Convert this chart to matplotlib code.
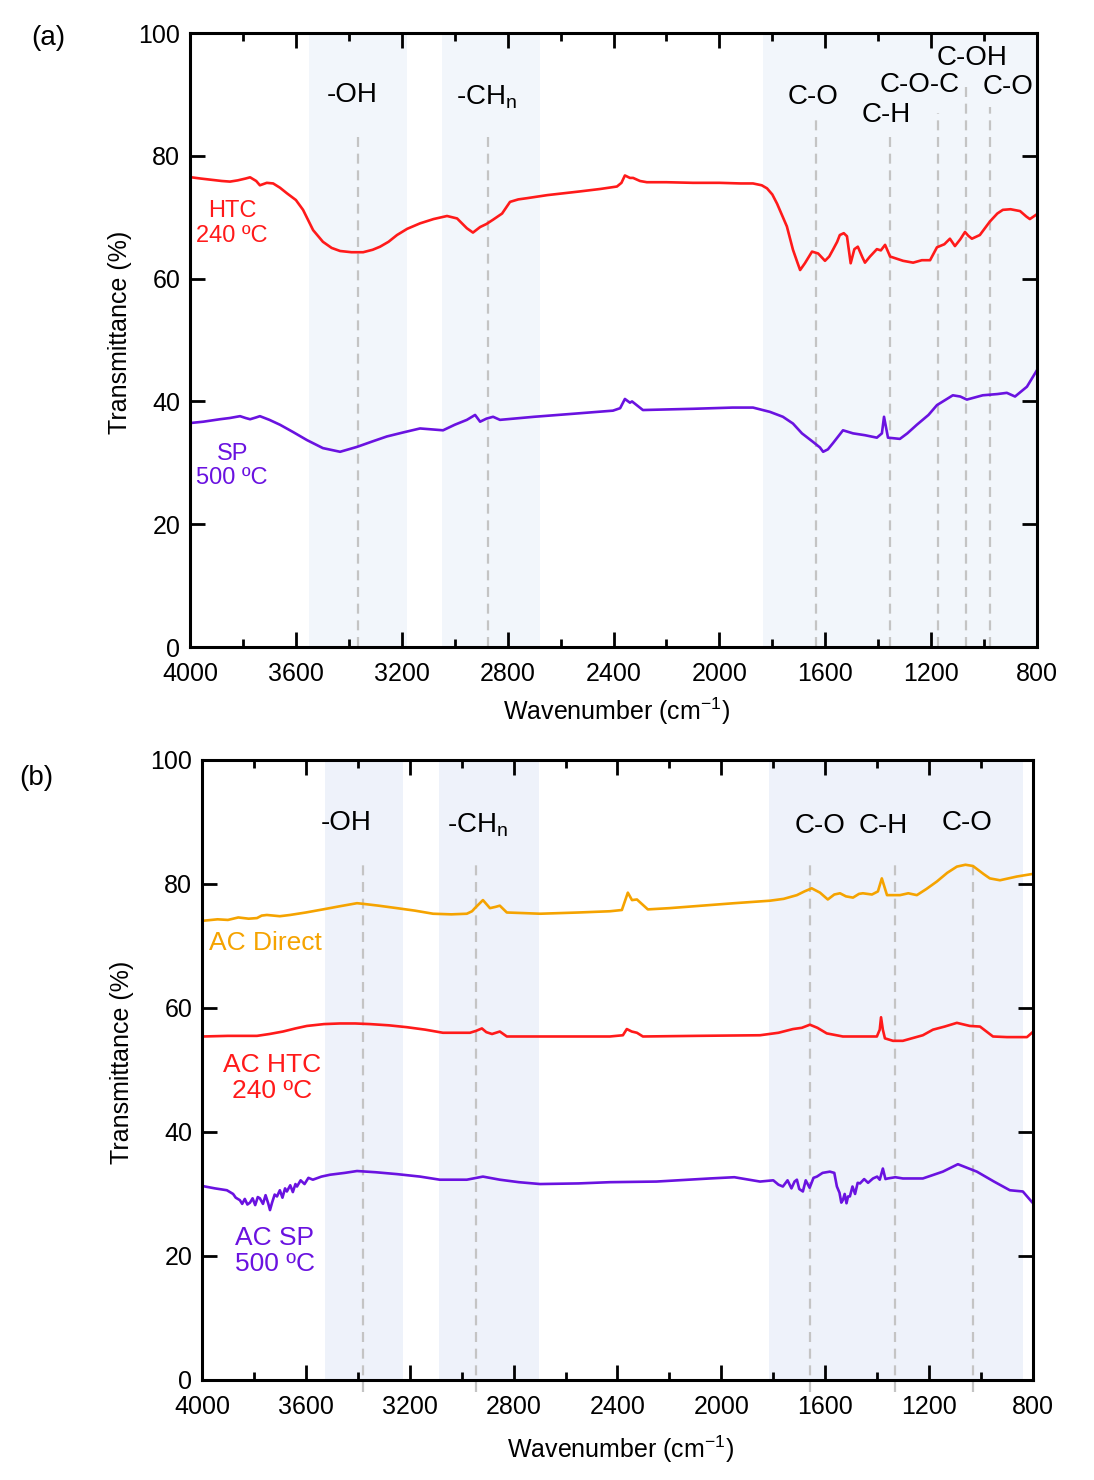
import numpy as np
import matplotlib
matplotlib.use('Agg')
import matplotlib.pyplot as plt
from matplotlib.ticker import MultipleLocator

plt.rcParams['font.family'] = ['Liberation Sans', 'DejaVu Sans']
plt.rcParams['mathtext.fontset'] = 'custom'
plt.rcParams['mathtext.rm'] = 'Liberation Sans'

RED = '#ff1a1a'
PURPLE = '#6a12e0'
ORANGE = '#f5a300'
SHADE_A = '#f2f6fb'
SHADE_B = '#eef2fa'
DASH = '#c4c4c4'

# ---- panel (a) data ----
htc_wn = [3995, 3960, 3920, 3880, 3849, 3820, 3790, 3773, 3750, 3736, 3710, 3686, 3660, 3634, 3600,
          3573, 3535, 3498, 3465, 3433, 3390, 3346, 3310, 3282, 3250, 3218, 3180, 3131, 3080, 3029,
          2991, 2954, 2931, 2904, 2880, 2855, 2821, 2791, 2760, 2727, 2650, 2527, 2450, 2387, 2370,
          2357, 2338, 2326, 2300, 2274, 2200, 2100, 2000, 1920, 1873, 1840, 1820, 1800, 1782, 1745,
          1722, 1705, 1695, 1677, 1650, 1627, 1601, 1585, 1571, 1555, 1545, 1530, 1518, 1504, 1490,
          1477, 1460, 1450, 1431, 1405, 1390, 1374, 1355, 1306, 1268, 1235, 1204, 1178, 1150, 1129,
          1110, 1090, 1072, 1060, 1046, 1016, 978, 950, 929, 900, 864, 840, 827, 810, 800]
htc_t = [76.5, 76.3, 76.1, 75.9, 75.8, 76.0, 76.3, 76.5, 75.9, 75.2, 75.6, 75.5, 74.8, 73.9, 72.8,
         71.2, 67.9, 66.0, 65.0, 64.5, 64.3, 64.3, 64.7, 65.2, 66.0, 67.1, 68.1, 69.0, 69.7, 70.2,
         69.8, 68.2, 67.5, 68.4, 68.9, 69.6, 70.6, 72.5, 72.9, 73.1, 73.6, 74.2, 74.6, 75.0, 75.6,
         76.8, 76.4, 76.4, 75.9, 75.7, 75.7, 75.6, 75.6, 75.5, 75.5, 75.2, 74.7, 73.7, 72.2, 68.5,
         64.7, 62.6, 61.4, 62.5, 64.4, 64.1, 62.9, 63.6, 64.7, 66.0, 67.1, 67.4, 66.9, 62.5, 64.8,
         65.2, 63.5, 62.6, 63.6, 64.8, 64.6, 65.5, 63.6, 62.9, 62.6, 63.0, 63.0, 65.1, 65.6, 66.5,
         65.3, 66.4, 67.6, 67.0, 66.5, 67.1, 69.3, 70.6, 71.2, 71.3, 71.0, 70.1, 69.7, 70.2, 70.5]

sp_wn = [3995, 3950, 3887, 3850, 3811, 3790, 3773, 3750, 3736, 3700, 3660, 3610, 3558, 3498, 3433,
         3369, 3310, 3256, 3190, 3131, 3044, 3000, 2954, 2923, 2904, 2880, 2855, 2829, 2700, 2550,
         2402, 2375, 2357, 2338, 2330, 2289, 2100, 1950, 1873, 1809, 1760, 1722, 1688, 1646, 1620,
         1608, 1590, 1571, 1533, 1495, 1450, 1405, 1386, 1378, 1363, 1318, 1290, 1254, 1210, 1178,
         1118, 1090, 1065, 1005, 950, 914, 883, 838, 800]
sp_t = [36.5, 36.7, 37.1, 37.3, 37.6, 37.3, 37.1, 37.4, 37.6, 37.0, 36.2, 35.0, 33.7, 32.4, 31.8,
        32.6, 33.5, 34.3, 35.0, 35.6, 35.3, 36.2, 37.0, 37.8, 36.7, 37.2, 37.5, 37.0, 37.5, 38.0,
        38.5, 38.9, 40.4, 39.8, 40.0, 38.6, 38.8, 39.0, 39.0, 38.3, 37.5, 36.4, 34.8, 33.4, 32.5,
        31.8, 32.2, 33.2, 35.3, 34.8, 34.5, 34.1, 34.8, 37.5, 34.1, 33.9, 34.8, 36.2, 37.8, 39.4,
        41.0, 40.8, 40.3, 41.0, 41.2, 41.4, 40.8, 42.4, 45.1]

# ---- panel (b) data ----
dir_wn = [3988, 3940, 3900, 3860, 3820, 3788, 3770, 3750, 3700, 3661, 3600, 3534, 3470, 3403, 3380,
          3320, 3249, 3180, 3110, 3040, 2980, 2960, 2949, 2918, 2891, 2870, 2853, 2826, 2760, 2698,
          2550, 2429, 2383, 2360, 2344, 2325, 2283, 2200, 2044, 1950, 1813, 1760, 1709, 1680, 1652,
          1620, 1590, 1565, 1543, 1520, 1493, 1470, 1455, 1420, 1397, 1382, 1362, 1312, 1280, 1247,
          1210, 1170, 1130, 1093, 1060, 1031, 990, 966, 927, 862, 804]
dir_t = [74.1, 74.3, 74.2, 74.6, 74.4, 74.5, 74.9, 75.0, 74.8, 75.0, 75.4, 75.9, 76.4, 76.9, 76.8,
         76.5, 76.1, 75.7, 75.2, 75.1, 75.2, 75.6, 76.1, 77.4, 76.1, 76.3, 76.5, 75.4, 75.3, 75.2,
         75.4, 75.6, 75.8, 78.6, 77.4, 77.5, 75.9, 76.1, 76.6, 76.9, 77.3, 77.6, 78.2, 78.8, 79.3,
         78.6, 77.5, 78.3, 78.5, 78.0, 77.8, 78.4, 78.5, 78.3, 78.8, 80.9, 78.2, 78.2, 78.5, 78.2,
         79.2, 80.4, 81.8, 82.8, 83.1, 82.9, 81.6, 80.9, 80.6, 81.2, 81.6]

htc2_wn = [3996, 3900, 3788, 3740, 3688, 3640, 3596, 3530, 3469, 3410, 3353, 3280, 3211, 3140, 3072,
           2968, 2945, 2922, 2905, 2883, 2853, 2826, 2700, 2550, 2429, 2379, 2364, 2345, 2325, 2302,
           2100, 1851, 1780, 1724, 1690, 1659, 1630, 1594, 1532, 1450, 1401, 1390, 1385, 1378, 1370,
           1339, 1301, 1224, 1185, 1140, 1093, 1043, 1004, 954, 900, 823, 804]
htc2_t = [55.4, 55.5, 55.5, 55.8, 56.2, 56.7, 57.1, 57.4, 57.5, 57.5, 57.4, 57.2, 56.9, 56.5, 56.0,
          56.0, 56.3, 56.7, 56.1, 55.8, 56.2, 55.4, 55.4, 55.4, 55.4, 55.6, 56.6, 56.2, 56.0, 55.4,
          55.5, 55.6, 56.0, 56.6, 56.8, 57.3, 56.8, 55.9, 55.4, 55.4, 55.4, 56.5, 58.5, 56.5, 55.1,
          54.7, 54.7, 55.6, 56.5, 57.0, 57.6, 57.1, 57.0, 55.4, 55.3, 55.3, 56.0]

sp2_wn = [3988, 3950, 3904, 3880, 3870, 3854, 3845, 3835, 3825, 3815, 3805, 3795, 3785, 3777, 3765,
          3755, 3745, 3738, 3730, 3720, 3711, 3700, 3690, 3680, 3673, 3660, 3650, 3640, 3634, 3620,
          3605, 3590, 3573, 3540, 3507, 3450, 3403, 3330, 3249, 3160, 3084, 2980, 2918, 2853, 2780,
          2698, 2550, 2429, 2250, 2044, 1950, 1851, 1800, 1780, 1763, 1745, 1730, 1718, 1709, 1700,
          1686, 1675, 1660, 1645, 1632, 1610, 1582, 1565, 1555, 1545, 1538, 1532, 1525, 1518, 1512,
          1505, 1495, 1485, 1475, 1466, 1450, 1435, 1416, 1400, 1390, 1378, 1368, 1359, 1330, 1301,
          1224, 1147, 1089, 1016, 950, 889, 839, 804]
sp2_t = [31.2, 30.9, 30.6, 30.0, 29.4, 29.0, 28.4, 29.2, 28.3, 28.6, 29.3, 28.2, 29.5, 29.3, 28.4,
         29.8, 28.5, 27.4, 28.6, 29.9, 29.6, 30.6, 29.4, 30.9, 30.4, 31.4, 30.3, 31.6, 31.2, 32.2,
         31.6, 32.6, 32.3, 32.8, 33.1, 33.4, 33.7, 33.5, 33.2, 32.8, 32.3, 32.3, 32.8, 32.3, 31.9,
         31.6, 31.7, 31.9, 32.0, 32.5, 32.7, 32.0, 32.2, 31.5, 31.2, 32.2, 30.9, 32.0, 32.3, 30.8,
         30.4, 32.2, 31.0, 32.6, 32.8, 33.4, 33.6, 33.4, 31.2, 30.2, 28.6, 29.0, 30.0, 28.5, 29.6,
         29.6, 31.2, 30.0, 31.8, 31.7, 32.4, 31.8, 32.5, 32.8, 32.3, 34.1, 32.4, 32.5, 32.7, 32.5,
         32.5, 33.6, 34.8, 33.6, 32.0, 30.6, 30.4, 28.7]

# bands and peak markers
bands_a = [(3550, 3180), (3048, 2678), (1835, 800)]
marks_a = [3365, 2874, 1635, 1355, 1174, 1068, 978]
mark_tops_a = [83.4, 83.4, 86.0, 84.0, 87.0, 91.2, 88.0]
labels_a = ['-OH', '-CH$_\\mathregular{n}$', 'C-O', 'C-H', 'C-O-C', 'C-OH', 'C-O']
label_pos_a = [(3388, 89.9), (2878, 89.6), (1647, 89.6), (1371, 86.6), (1242, 91.5), (1046, 95.9), (910, 91.2)]

bands_b = [(3526, 3226), (3087, 2702), (1817, 840)]
marks_b = [3380, 2945, 1659, 1332, 1031]
mark_tops_b = [83.5, 83.5, 83.5, 83.5, 83.5]
labels_b = ['-OH', '-CH$_\\mathregular{n}$', 'C-O', 'C-H', 'C-O']
label_pos_b = [(3446, 89.8), (2937, 89.5), (1620, 89.4), (1378, 89.4), (1054, 89.8)]


def style_axes(ax):
    ax.set_xlim(4000, 800)
    ax.set_ylim(0, 100)
    ax.xaxis.set_major_locator(MultipleLocator(400))
    ax.xaxis.set_minor_locator(MultipleLocator(200))
    ax.yaxis.set_major_locator(MultipleLocator(20))
    ax.tick_params(which='both', direction='in', top=True, right=True, width=2)
    ax.tick_params(which='major', length=11, labelsize=18)
    ax.tick_params(which='minor', length=6)
    ax.tick_params(axis='x', which='major', pad=11)
    ax.tick_params(axis='y', which='major', pad=7)
    for s in ax.spines.values():
        s.set_linewidth(2.2)


def draw_bands(ax, bands, shade, marks, tops, bottom, labels, label_pos, fs):
    for lo, hi in bands:
        ax.axvspan(lo, hi, color=shade, zorder=0, lw=0)
    for m, top in zip(marks, tops):
        ax.plot([m, m], [bottom, top], color=DASH, ls=(0, (4.5, 3)), lw=1.6, zorder=1, clip_on=False)
    for lab, (x, y) in zip(labels, label_pos):
        ax.text(x, y, lab, fontsize=fs, ha='center', va='center', zorder=3)


fig = plt.figure(figsize=(10.94, 14.8), dpi=100)

ax1 = fig.add_axes([0.1737, 0.5628, 0.7742, 0.4149])
style_axes(ax1)
draw_bands(ax1, bands_a, SHADE_A, marks_a, mark_tops_a, 0, labels_a, label_pos_a, 20)
ax1.plot(htc_wn, htc_t, color=RED, lw=1.9, zorder=2)
ax1.plot(sp_wn, sp_t, color=PURPLE, lw=1.9, zorder=2)
ax1.text(3841, 69.0, 'HTC\n240 ºC', color=RED, fontsize=17, ha='center', va='center', linespacing=1.15)
ax1.text(3841, 29.5, 'SP\n500 ºC', color=PURPLE, fontsize=17, ha='center', va='center', linespacing=1.15)

ax2 = fig.add_axes([0.1846, 0.0676, 0.7596, 0.4189])
style_axes(ax2)
draw_bands(ax2, bands_b, SHADE_B, marks_b, mark_tops_b, -2, labels_b, label_pos_b, 20)
ax2.plot(dir_wn, dir_t, color=ORANGE, lw=1.9, zorder=2)
ax2.plot(htc2_wn, htc2_t, color=RED, lw=1.9, zorder=2)
ax2.plot(sp2_wn, sp2_t, color=PURPLE, lw=1.9, zorder=2)
ax2.text(3754, 70.5, 'AC Direct', color=ORANGE, fontsize=19, ha='center', va='center')
ax2.text(3730, 48.7, 'AC HTC\n240 ºC', color=RED, fontsize=19, ha='center', va='center', linespacing=1.1)
ax2.text(3720, 20.8, 'AC SP\n500 ºC', color=PURPLE, fontsize=19, ha='center', va='center', linespacing=1.1)

W, H = 1094, 1480
fig.text(120 / W, 1 - 332 / H, 'Transmittance (%)', rotation=90, fontsize=18, ha='center', va='center')
fig.text(617 / W, 1 - 711 / H, 'Wavenumber (cm$^\\mathregular{-1}$)', fontsize=18, ha='center', va='center')
fig.text(122 / W, 1 - 1062 / H, 'Transmittance (%)', rotation=90, fontsize=18, ha='center', va='center')
fig.text(621 / W, 1 - 1449 / H, 'Wavenumber (cm$^\\mathregular{-1}$)', fontsize=18, ha='center', va='center')
fig.text(48 / W, 1 - 38 / H, '(a)', fontsize=20, ha='center', va='center')
fig.text(36 / W, 1 - 778 / H, '(b)', fontsize=20, ha='center', va='center')

fig.savefig('out.png', dpi=100)
